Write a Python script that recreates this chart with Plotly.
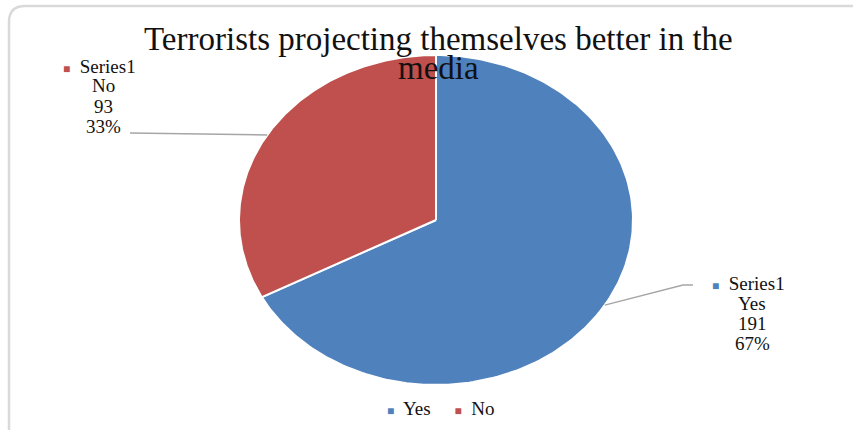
import numpy as np
import plotly.graph_objects as go

# Survey answers
categories = ["Yes", "No"]
counts = [191, 93]
series_name = "Series1"
title_lines = ["Terrorists projecting themselves better in the", "media"]

colors = {"Yes": "#4F81BD", "No": "#C0504D"}
FONT = "Liberation Serif, Times New Roman, serif"

W, H = 853, 430
CX, CY = 436, 220        # pie centre in pixels
RX, RY = 197, 165        # pie radii in pixels (slightly stretched ellipse)

total = sum(counts)
shares = [c / total for c in counts]

fig = go.Figure()

# Slices start at 12 o'clock and run clockwise
start = 0.0
mids = []
for cat, share in zip(categories, shares):
    end = start + share * 2 * np.pi
    t = np.linspace(start, end, 200)
    xs = np.concatenate([[0], np.sin(t), [0]])
    ys = np.concatenate([[0], np.cos(t), [0]])
    fig.add_trace(go.Scatter(
        x=xs, y=ys, mode="lines", fill="toself",
        fillcolor=colors[cat], line=dict(color="white", width=2),
        name=cat, showlegend=False, hoverinfo="skip",
    ))
    mids.append((start + end) / 2)
    start = end

# Leader lines from each slice's mid-edge to its label
lab_pts = {
    "No": [(130, 133)],
    "Yes": [(683, 285), (693, 285)],
}
for cat, mid in zip(categories, mids):
    px = [np.sin(mid)] + [(p[0] - CX) / RX for p in lab_pts[cat]]
    py = [np.cos(mid)] + [(CY - p[1]) / RY for p in lab_pts[cat]]
    fig.add_trace(go.Scatter(
        x=px, y=py, mode="lines", line=dict(color="#A6A6A6", width=1.5),
        showlegend=False, hoverinfo="skip",
    ))


def px_to_paper(x, y):
    return x / W, 1 - y / H


# Data labels, one annotation per line for even spacing
label_pos = {"No": (103, 66), "Yes": (752, 283)}   # centre x, first line y
LINE = 20
for cat, cnt, share in zip(categories, counts, shares):
    lx, ly = label_pos[cat]
    lines = [
        f"<span style='color:{colors[cat]};font-size:12px'>■</span>  {series_name}",
        cat, str(cnt), f"{share:.0%}",
    ]
    for i, line in enumerate(lines):
        ax, ay = px_to_paper(lx - (4 if i == 0 else 0), ly + i * LINE)
        fig.add_annotation(
            x=ax, y=ay, xref="paper", yref="paper",
            text=line, showarrow=False, xanchor="center", yanchor="middle",
            font=dict(family=FONT, size=19, color="#111111"),
        )

# Title
for line, ty in zip(title_lines, [39, 68]):
    ax, ay = px_to_paper(438, ty)
    fig.add_annotation(
        x=ax, y=ay, xref="paper", yref="paper",
        text=line, showarrow=False, xanchor="center", yanchor="middle",
        font=dict(family=FONT, size=33, color="#111111"),
    )

# Legend row
legend_txt = "&nbsp;&nbsp;&nbsp;&nbsp;&nbsp;".join(
    f"<span style='color:{colors[c]};font-size:12px'>■</span>&nbsp; {c}" for c in categories
)
ax, ay = px_to_paper(441, 408)
fig.add_annotation(
    x=ax, y=ay, xref="paper", yref="paper",
    text=legend_txt, showarrow=False, xanchor="center", yanchor="middle",
    font=dict(family=FONT, size=19, color="#111111"),
)

# Rounded chart border
r = 16
x0, y0 = 9 / W, 1 - 6 / H
rx, ry = r / W, r / H
fig.add_shape(
    type="path", xref="paper", yref="paper",
    path=(f"M 1.02,{y0} L {x0 + rx},{y0} Q {x0},{y0} {x0},{y0 - ry} "
          f"L {x0},-0.02"),
    line=dict(color="#D9D9D9", width=2.5),
)

fig.update_xaxes(range=[-CX / RX, (W - CX) / RX], visible=False, domain=[0, 1])
fig.update_yaxes(range=[-(H - CY) / RY, CY / RY], visible=False, domain=[0, 1])
fig.update_layout(
    width=W, height=H, margin=dict(l=0, r=0, t=0, b=0),
    paper_bgcolor="white", plot_bgcolor="white", showlegend=False,
)

fig.write_html("out.html")
